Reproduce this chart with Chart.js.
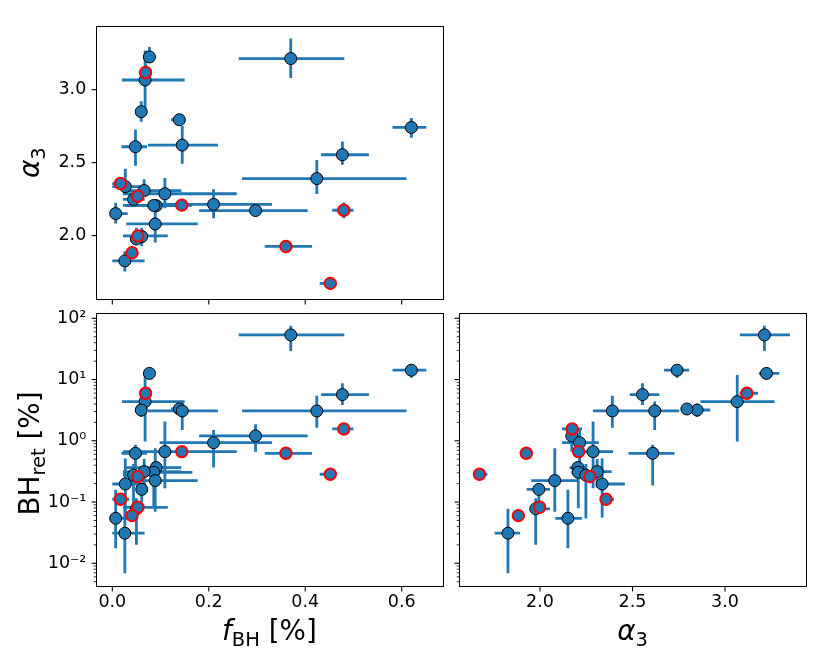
<!DOCTYPE html>
<html>
<head>
<meta charset="utf-8">
<script src="https://cdn.jsdelivr.net/npm/chart.js@4.4.1/dist/chart.umd.min.js"></script>
<style>
  html, body { margin: 0; padding: 0; background: #fff; }
  #wrap { position: relative; width: 830px; height: 657px; overflow: hidden; }
  #wrap canvas { position: absolute; left: 0; top: 0; }
</style>
</head>
<body>
<div id="wrap">
  <canvas id="c1" width="830" height="657"></canvas>
  <canvas id="c2" width="830" height="657"></canvas>
  <canvas id="c3" width="830" height="657"></canvas>
</div>
<script>
// ---------------- data ----------------
// one entry per cluster
const fBH   = [0.370,0.620,0.077,0.069,0.068,0.060,0.139,0.145,0.424,0.477,0.480,0.297,0.210,0.360,0.144,0.109,0.048,0.452,0.091,0.086,0.089,0.066,0.053,0.044,0.027,0.061,0.017,0.053,0.050,0.041,0.007,0.026];
const fLo   = [0.262,0.581,0.064,0.058,0.020,0.053,0.122,0.074,0.269,0.433,0.456,0.180,0.098,0.316,0.134,0.022,0.019,0.430,0.029,0.022,0.029,0.022,0.053,0.022,0.000,0.050,0.000,0.022,0.040,0.041,0.000,0.000];
const fHi   = [0.481,0.651,0.088,0.080,0.150,0.067,0.150,0.219,0.610,0.532,0.500,0.405,0.331,0.414,0.154,0.258,0.072,0.464,0.143,0.166,0.177,0.143,0.053,0.067,0.067,0.070,0.035,0.115,0.060,0.041,0.032,0.067];
const alpha3 = [3.213,2.741,3.224,3.118,3.066,2.849,2.794,2.620,2.391,2.554,2.174,2.172,2.214,1.926,2.209,2.287,2.609,1.673,2.205,2.207,2.080,2.309,2.270,2.248,2.336,1.994,2.357,1.998,1.977,1.883,2.151,1.827];
const aLo   = [3.080,2.670,3.183,3.079,2.867,2.780,2.770,2.492,2.286,2.485,2.119,2.142,2.119,1.926,2.209,2.188,2.478,1.649,2.160,2.170,1.953,2.270,2.270,2.200,2.306,1.928,2.340,1.998,1.955,1.883,2.083,1.755];
const aHi   = [3.351,2.806,3.293,3.178,3.268,2.920,2.820,2.753,2.519,2.645,2.227,2.199,2.318,1.926,2.209,2.395,2.727,1.716,2.250,2.240,2.213,2.387,2.270,2.290,2.459,2.054,2.400,1.998,2.054,1.883,2.226,1.893];
const bhRet = [53.5,14.2,12.6,5.97,4.36,3.18,3.31,3.07,3.07,5.68,1.56,1.20,0.933,0.625,0.665,0.665,0.625,0.284,0.365,0.306,0.224,0.314,0.260,0.275,0.197,0.161,0.111,0.082,0.0776,0.060,0.0543,0.031];
const bhLo  = [29.3,10.7,11.4,5.97,0.97,2.45,2.63,1.50,1.64,3.85,1.32,0.665,0.365,0.625,0.665,0.168,0.186,0.284,0.330,0.079,0.0697,0.172,0.260,0.054,0.056,0.099,0.111,0.082,0.020,0.060,0.0176,0.0069];
const bhHi  = [75.9,16.3,13.5,5.97,11.9,4.07,3.85,4.37,5.46,8.69,1.91,1.86,1.50,0.625,0.665,2.06,0.861,0.284,0.400,0.450,0.759,0.505,0.260,0.417,0.513,0.202,0.111,0.082,0.115,0.060,0.158,0.0776];
const redEdge = [false,false,false,true,false,false,false,false,false,false,true,false,false,true,true,false,false,true,false,false,false,false,true,false,false,false,true,true,false,true,false,false];

// tick labels
const fTicks = [0.0, 0.2, 0.4, 0.6];
const fTickLabels = ['0.0', '0.2', '0.4', '0.6'];
const aTicks = [2.0, 2.5, 3.0];
const aTickLabels = ['2.0', '2.5', '3.0'];
const bhMajor = [0.01, 0.1, 1, 10, 100];
const bhTickLabels = ['10\u207B\u00B2', '10\u207B\u00B9', '10\u2070', '10\u00B9', '10\u00B2'];

// ---------------- styling ----------------
const BLUE = '#1f77b4';
const FONT = "'DejaVu Sans', sans-serif";
const F_RANGE = [-0.0338, 0.685];
const A_RANGE = [1.564, 3.436];
const BH_RANGE = [Math.pow(10, -2.366), Math.pow(10, 2.0816)];

function bhMinor() {
  const out = [];
  for (let e = -3; e <= 2; e++) {
    for (let m = 2; m <= 9; m++) {
      const v = m * Math.pow(10, e);
      if (v > BH_RANGE[0] && v < BH_RANGE[1]) out.push(v);
    }
  }
  return out;
}
const linTicks = (vals) => vals.map(v => ({ v, major: true }));
const logTicks = () => bhMajor.map(v => ({ v, major: true })).concat(bhMinor().map(v => ({ v, major: false })));

function errorData(xv, yv, xlo, xhi, ylo, yhi) {
  const d = [];
  for (let i = 0; i < xv.length; i++) {
    if (xhi[i] > xlo[i]) { d.push({x: xlo[i], y: yv[i]}, {x: xhi[i], y: yv[i]}, {x: xhi[i], y: null}); }
    if (yhi[i] > ylo[i]) { d.push({x: xv[i], y: ylo[i]}, {x: xv[i], y: yhi[i]}, {x: xv[i], y: null}); }
  }
  return d;
}
function pointData(xv, yv, red) {
  const d = [];
  for (let i = 0; i < xv.length; i++) if (redEdge[i] === red) d.push({x: xv[i], y: yv[i]});
  return d;
}
function datasets(xv, yv, xlo, xhi, ylo, yhi) {
  return [
    { data: pointData(xv, yv, true), order: 0, showLine: false, pointRadius: 5.7, pointHoverRadius: 5.7,
      pointBackgroundColor: BLUE, pointBorderColor: '#ff0000', pointBorderWidth: 2 },
    { data: pointData(xv, yv, false), order: 1, showLine: false, pointRadius: 6, pointHoverRadius: 6,
      pointBackgroundColor: BLUE, pointBorderColor: '#000000', pointBorderWidth: 1 },
    { data: errorData(xv, yv, xlo, xhi, ylo, yhi), order: 2, showLine: true, spanGaps: false,
      borderColor: BLUE, borderWidth: 2.8, pointRadius: 0, tension: 0, borderCapStyle: 'butt' }
  ];
}

// frame + tick marks
const framePlugin = {
  id: 'frame',
  afterDatasetsDraw(chart, args, opts) {
    const {ctx, chartArea: a} = chart;
    const xs = chart.scales.x, ys = chart.scales.y;
    ctx.save();
    ctx.strokeStyle = '#000';
    ctx.lineWidth = 1;
    ctx.strokeRect(Math.round(a.left) + 0.5, Math.round(a.top) + 0.5,
                   Math.round(a.right) - Math.round(a.left), Math.round(a.bottom) - Math.round(a.top));
    (opts.xTicks || []).forEach(t => {
      const px = xs.getPixelForValue(t.v);
      const L = t.major ? 4.9 : 2.8;
      ctx.lineWidth = t.major ? 1.1 : 0.8;
      ctx.beginPath(); ctx.moveTo(px, Math.round(a.bottom) + 0.5); ctx.lineTo(px, Math.round(a.bottom) + 0.5 + L); ctx.stroke();
    });
    (opts.yTicks || []).forEach(t => {
      const py = ys.getPixelForValue(t.v);
      const L = t.major ? 4.9 : 2.8;
      ctx.lineWidth = t.major ? 1.1 : 0.8;
      ctx.beginPath(); ctx.moveTo(Math.round(a.left) + 0.5, py); ctx.lineTo(Math.round(a.left) + 0.5 - L, py); ctx.stroke();
    });
    ctx.restore();
  }
};

// axis titles with sub-scripts
const MAIN = 27.8, SUB = 19.5, DROP = 5.5;
function segFont(s) { return (s.it ? 'italic ' : '') + (s.sub ? SUB : MAIN) + 'px ' + FONT; }
function drawRich(ctx, segs, cx, cy, rot) {
  ctx.save();
  ctx.translate(cx, cy);
  ctx.rotate(rot);
  ctx.fillStyle = '#000';
  ctx.textBaseline = 'alphabetic';
  ctx.textAlign = 'left';
  let w = 0;
  const ws = segs.map(s => { ctx.font = segFont(s); const m = ctx.measureText(s.t).width; w += m; return m; });
  let x = -w / 2;
  segs.forEach((s, i) => { ctx.font = segFont(s); ctx.fillText(s.t, x, s.sub ? DROP : 0); x += ws[i]; });
  ctx.restore();
}
const titlePlugin = {
  id: 'mtitle',
  afterDraw(chart, args, opts) {
    const {ctx, chartArea: a} = chart;
    if (opts.x) drawRich(ctx, opts.x, (a.left + a.right) / 2, opts.xBase, 0);
    if (opts.y) drawRich(ctx, opts.y, opts.yBase, (a.top + a.bottom) / 2 + (opts.yShift || 0), -Math.PI / 2);
  }
};

const T_F = [{t: 'f', it: true}, {t: 'BH', sub: true}, {t: ' [%]'}];
const T_A = [{t: '\u03B1', it: true}, {t: '3', sub: true}];
const T_BH = [{t: 'BH'}, {t: 'ret', sub: true}, {t: ' [%]'}];

const tickFont = { family: FONT, size: 17.5 };

function linearAxis(range, ticks, labels, show, fitSize, horiz, pad) {
  return {
    type: 'linear', min: range[0], max: range[1], display: show,
    grid: { display: false, drawTicks: false }, border: { display: false },
    afterBuildTicks: (s) => { s.ticks = ticks.map(v => ({ value: v })); },
    afterFit: (s) => { if (horiz) s.height = fitSize; else s.width = fitSize; },
    ticks: { font: tickFont, color: '#000', padding: pad, maxRotation: 0, autoSkip: false,
             callback: (v) => { const i = ticks.findIndex(t => Math.abs(t - v) < 1e-9); return i >= 0 ? labels[i] : ''; } }
  };
}
function logAxis(show, fitSize) {
  return {
    type: 'logarithmic', min: BH_RANGE[0], max: BH_RANGE[1], display: show,
    grid: { display: false, drawTicks: false }, border: { display: false },
    afterBuildTicks: (s) => { s.ticks = bhMajor.map(v => ({ value: v })); },
    afterFit: (s) => { s.width = fitSize; },
    ticks: { font: tickFont, color: '#000', padding: 9.7, autoSkip: false,
             callback: (v) => { const i = bhMajor.findIndex(t => Math.abs(Math.log10(t) - Math.log10(v)) < 1e-6); return i >= 0 ? bhTickLabels[i] : ''; } }
  };
}

function common(padding, xAxis, yAxis, frameOpts, titleOpts) {
  return {
    responsive: false, animation: false, devicePixelRatio: 1,
    layout: { padding },
    scales: { x: xAxis, y: yAxis },
    plugins: { legend: { display: false }, tooltip: { enabled: false }, frame: frameOpts, mtitle: titleOpts },
    events: []
  };
}

// Panel 1: f_BH vs alpha3
new Chart(document.getElementById('c1'), {
  type: 'scatter',
  data: { datasets: datasets(fBH, alpha3, fLo, fHi, aLo, aHi) },
  options: common({ left: 0, top: 26, right: 830 - 442.7, bottom: 657 - 299.3 },
    linearAxis(F_RANGE, fTicks, fTickLabels, false, 0, true, 6),
    linearAxis(A_RANGE, aTicks, aTickLabels, true, 96, false, 9.7),
    { xTicks: linTicks(fTicks), yTicks: linTicks(aTicks) },
    { y: T_A, yBase: 39 }),
  plugins: [framePlugin, titlePlugin]
});

// Panel 2: f_BH vs BH_ret
new Chart(document.getElementById('c2'), {
  type: 'scatter',
  data: { datasets: datasets(fBH, bhRet, fLo, fHi, bhLo, bhHi) },
  options: common({ left: 0, top: 313.3, right: 830 - 442.7, bottom: 657 - 585.7 - 30 },
    linearAxis(F_RANGE, fTicks, fTickLabels, true, 30, true, 6),
    logAxis(true, 96),
    { xTicks: linTicks(fTicks), yTicks: logTicks() },
    { x: T_F, xBase: 640, y: T_BH, yBase: 39, yShift: 4 }),
  plugins: [framePlugin, titlePlugin]
});

// Panel 3: alpha3 vs BH_ret
new Chart(document.getElementById('c3'), {
  type: 'scatter',
  data: { datasets: datasets(alpha3, bhRet, aLo, aHi, bhLo, bhHi) },
  options: common({ left: 459.3, top: 313.3, right: 830 - 805.7, bottom: 657 - 585.7 - 30 },
    linearAxis(A_RANGE, aTicks, aTickLabels, true, 30, true, 6),
    logAxis(false, 0),
    { xTicks: linTicks(aTicks), yTicks: logTicks() },
    { x: T_A, xBase: 640 }),
  plugins: [framePlugin, titlePlugin]
});
</script>
</body>
</html>
